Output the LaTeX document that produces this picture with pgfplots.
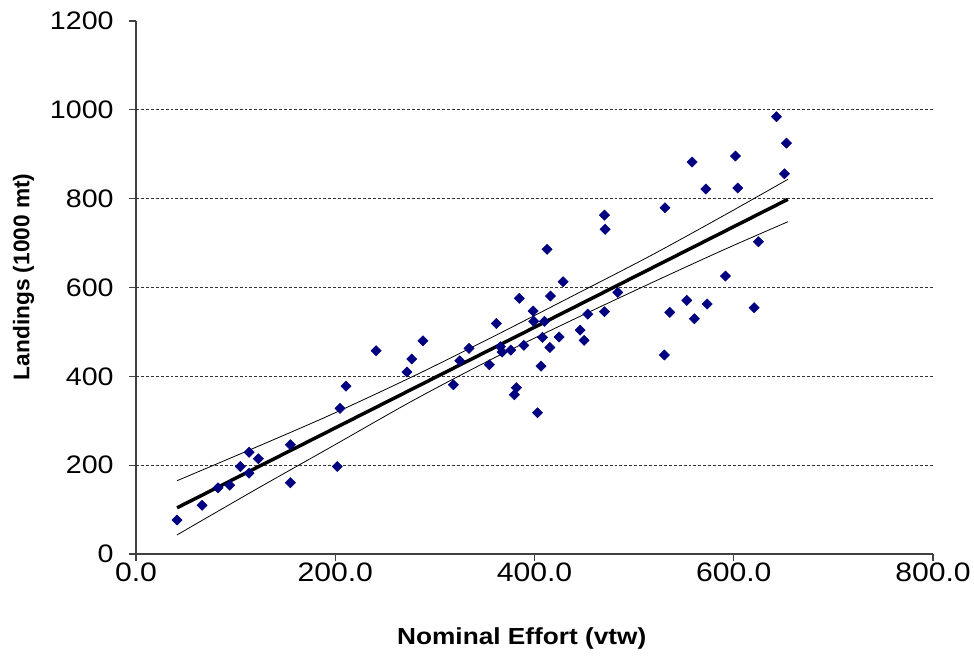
\documentclass[border=0pt]{standalone}
\usepackage{fontspec}
\setmainfont{Liberation Sans}[FakeStretch=1.13]
\newfontfamily\plainsans{Liberation Sans}
\usepackage{pgfplots}
\pgfplotsset{compat=1.18}
\definecolor{navy}{HTML}{000080}

\begin{document}
\begin{tikzpicture}
\useasboundingbox (0,0) rectangle (730.5pt,493.5pt);
\begin{axis}[
    at={(102pt,78pt)}, anchor=south west,
    scale only axis, width=597.75pt, height=399.75pt,
    xmin=0, xmax=800, ymin=0, ymax=1200,
    xtick={0,200,...,800}, ytick={0,200,...,1200},
    axis x line*=bottom, axis y line*=left,
    axis line style={black!75, line width=0.8pt},
    tick align=outside, major tick length=5.25pt,
    tick style={black!75, line width=0.8pt},
    /pgf/number format/assume math mode=true,
    /pgf/number format/1000 sep={},
    xticklabel style={font=\fontsize{20pt}{24pt}\selectfont, yshift=2pt,
                      /pgf/number format/fixed,
                      /pgf/number format/fixed zerofill,
                      /pgf/number format/precision=1},
    yticklabel style={font=\fontsize{19pt}{23pt}\selectfont, xshift=-8pt},
    extra y ticks={200,400,...,1000}, extra y tick labels={},
    extra y tick style={grid=major, major tick length=0pt},
    major grid style={black!80, dash pattern=on 2.2pt off 1.5pt, line width=0.6pt},
    xlabel={Nominal Effort (vtw)},
    xlabel style={font=\bfseries\fontsize{17.4pt}{20pt}\selectfont,
                  at={(axis description cs:0.484,-0.1576)}, anchor=center},
    ylabel={Landings (1000 mt)},
    ylabel style={font=\plainsans\bfseries\fontsize{17pt}{20pt}\selectfont,
                  at={(axis description cs:-0.141,0.52)}, anchor=center},
]
  % observations
  \addplot[only marks, mark=square*, mark size=2.7pt,
           mark options={rotate=45, fill=navy, draw=navy}]
    table {
      x     y
      41.2  76.5
      66.3  109.6
      82.3  149
      94.0  155
      104.7 197
      113.5 229
      113.5 182
      122.8 214.5
      155.0 246
      155.0 160.5
      202.0 197
      204.8 328
      210.8 378
      241.0 457.7
      272.0 409.7
      276.8 439
      288.0 480
      318.6 381
      325.0 435
      334.3 463
      354.7 426
      361.7 519
      365.8 466.7
      367.5 454.7
      376.2 459
      381.8 374.4
      379.8 358.6
      384.8 575.6
      389.3 469.8
      398.6 547
      399.3 523.8
      403.0 318
      406.6 423
      408.0 487.8
      410.0 523.8
      412.6 686
      416.0 580.8
      415.4 465
      424.7 488.5
      428.7 613
      445.8 504
      449.8 481
      453.5 540
      470.2 545.5
      483.6 589
      470.2 763
      470.9 731
      531.0 779.6
      530.4 448
      535.8 544
      552.9 571
      558.2 882.5
      560.5 529.7
      572.0 821.7
      573.3 562.8
      591.7 625.8
      601.7 896
      604.0 824
      620.5 554.5
      624.8 703
      642.9 984.5
      650.9 856
      652.9 925
    };
  % fitted line
  \addplot[black, line width=2.6pt] coordinates {(41.2,104) (654.3,798.5)};
  % confidence band
  \addplot[black, line width=0.6pt, smooth] coordinates {
    (41.2,165) (120,240) (195,313) (280,402) (360,491)
    (440,583) (516,671) (590,762) (654.3,843.5)};
  \addplot[black, line width=0.6pt, smooth] coordinates {
    (41.2,43) (120,145) (195,240) (280,348) (360,442)
    (440,529) (516,609) (590,685) (654.3,748)};
\end{axis}
\end{tikzpicture}
\end{document}
